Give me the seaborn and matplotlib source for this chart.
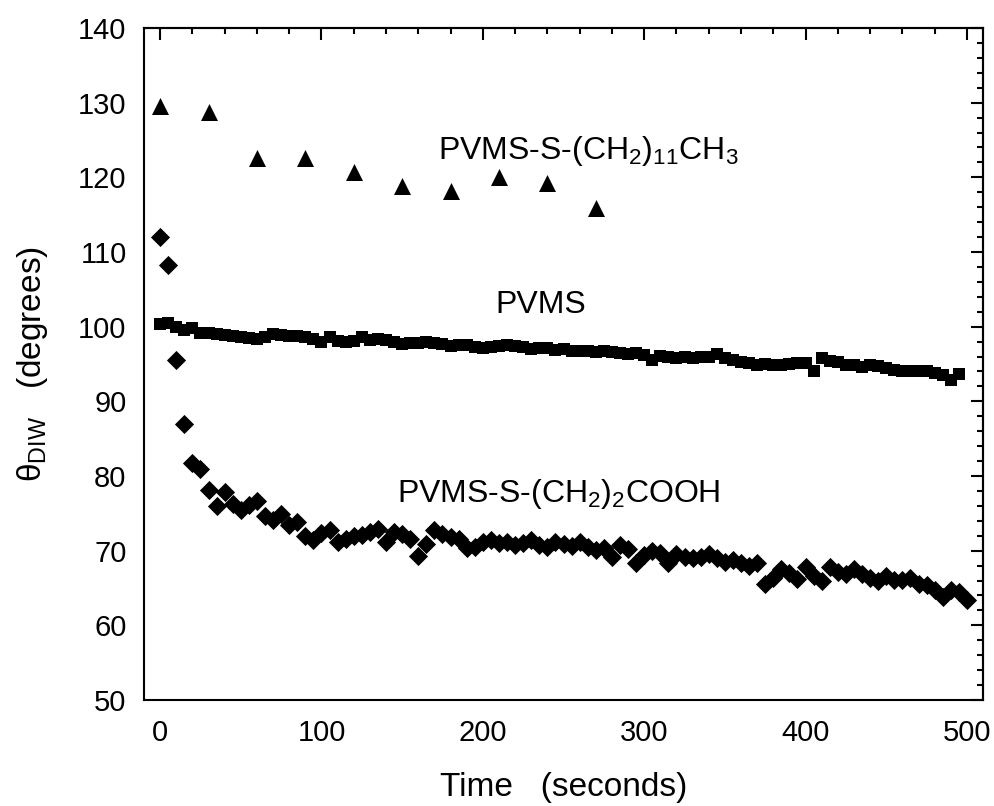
import numpy as np
import pandas as pd
import matplotlib
matplotlib.use("Agg")
import matplotlib.pyplot as plt
from matplotlib.ticker import MultipleLocator
import seaborn as sns

# ---------------- data ----------------
time_cooh = list(range(0, 505, 5))
theta_cooh = [112.0, 108.2, 95.6, 87.0, 81.8, 81.0, 78.1, 76.0, 77.8, 76.2,
              75.5, 76.1, 76.6, 74.6, 74.1, 74.9, 73.4, 73.9, 72.0, 71.4,
              72.3, 72.8, 71.2, 71.6, 72.0, 72.1, 72.5, 72.9, 71.2, 72.5,
              72.2, 71.6, 69.3, 70.9, 72.8, 72.2, 71.8, 71.6, 70.3, 70.5,
              71.1, 71.4, 71.0, 71.2, 70.8, 71.0, 71.4, 70.8, 70.5, 71.1,
              70.9, 70.6, 71.2, 70.5, 70.1, 70.4, 69.2, 70.8, 70.2, 68.3,
              69.4, 69.9, 69.7, 68.4, 69.6, 69.2, 69.0, 69.2, 69.5, 69.0,
              68.5, 68.7, 68.3, 67.9, 68.3, 65.6, 66.3, 67.5, 67.0, 66.2,
              67.8, 66.6, 66.0, 67.8, 67.2, 66.9, 67.5, 66.9, 66.3, 65.9,
              66.6, 66.1, 66.1, 66.3, 65.6, 65.4, 64.7, 63.8, 64.7, 64.5,
              63.4]

time_pvms = list(range(0, 500, 5))
theta_pvms = [100.3, 100.45, 100.0, 99.5, 99.8, 99.1, 99.1, 99.0, 98.9, 98.8,
              98.6, 98.5, 98.4, 98.6, 99.0, 98.9, 98.75, 98.7, 98.6, 98.3,
              98.0, 98.6, 98.1, 98.0, 98.1, 98.6, 98.2, 98.4, 98.2, 98.0,
              97.7, 97.8, 97.85, 98.0, 97.8, 97.7, 97.4, 97.6, 97.5, 97.3,
              97.2, 97.3, 97.4, 97.5, 97.4, 97.3, 97.0, 97.1, 97.2, 96.9,
              97.0, 96.8, 96.7, 96.8, 96.6, 96.7, 96.6, 96.5, 96.4, 96.5,
              96.2, 95.5, 96.1, 96.0, 95.8, 96.0, 95.8, 95.9, 96.0, 96.4,
              95.8, 95.5, 95.2, 95.1, 94.9, 95.0, 94.9, 94.9, 95.0, 95.1,
              95.1, 94.0, 95.8, 95.4, 95.2, 94.9, 94.8, 94.6, 94.9, 94.7,
              94.4, 94.2, 94.1, 94.1, 94.1, 94.0, 93.8, 93.5, 92.9, 93.7]

time_c12 = [0, 30, 60, 90, 120, 150, 180, 210, 240, 270]
theta_c12 = [129.5, 128.8, 122.6, 122.6, 120.7, 118.8, 118.2, 120.0, 119.2, 115.9]

labels = {
    "c12": "PVMS-S-(CH$_2$)$_{11}$CH$_3$",
    "pvms": "PVMS",
    "cooh": "PVMS-S-(CH$_2$)$_2$COOH",
}
x_title = "Time   (seconds)"
y_title = "θ$_{\\mathrm{DIW}}$   (degrees)"

df_cooh = pd.DataFrame({"t": time_cooh, "theta": theta_cooh})
df_pvms = pd.DataFrame({"t": time_pvms, "theta": theta_pvms})
df_c12 = pd.DataFrame({"t": time_c12, "theta": theta_c12})

# ---------------- style ----------------
sns.set_style("white")
plt.rcParams["font.family"] = ["Liberation Sans", "DejaVu Sans"]
plt.rcParams["text.color"] = "black"
plt.rcParams["axes.labelcolor"] = "black"
plt.rcParams["xtick.color"] = "black"
plt.rcParams["ytick.color"] = "black"
plt.rcParams["mathtext.fontset"] = "custom"
plt.rcParams["mathtext.rm"] = "Liberation Sans"
plt.rcParams["mathtext.it"] = "Liberation Sans:italic"
plt.rcParams["mathtext.bf"] = "Liberation Sans:bold"

fig = plt.figure(figsize=(9.95, 8.06), dpi=100)
ax = fig.add_axes([0.1447, 0.1315, 0.8433, 0.8338])

sns.scatterplot(data=df_pvms, x="t", y="theta", marker="s", s=80,
                color="black", linewidth=0, ax=ax, zorder=3)
sns.scatterplot(data=df_cooh, x="t", y="theta", marker="D", s=95,
                color="black", linewidth=0, ax=ax, zorder=3)
sns.scatterplot(data=df_c12, x="t", y="theta", marker="^", s=150,
                color="black", linewidth=0, ax=ax, zorder=3)

ax.set_xlim(-10, 510)
ax.set_ylim(50, 140)

ax.xaxis.set_major_locator(MultipleLocator(100))
ax.xaxis.set_minor_locator(MultipleLocator(20))
ax.yaxis.set_major_locator(MultipleLocator(10))
ax.yaxis.set_minor_locator(MultipleLocator(2))

for sp in ax.spines.values():
    sp.set_linewidth(1.5)
    sp.set_color("black")
    sp.set_visible(True)

ax.tick_params(which="both", direction="out", width=1.5, color="black",
               top=False, right=False, labelsize=21, labelcolor="black")
ax.tick_params(which="major", length=8.5)
ax.tick_params(which="minor", length=4.3)
ax.tick_params(axis="x", which="major", pad=5)
ax.tick_params(axis="y", which="major", pad=4)

secx = ax.secondary_xaxis("top")
secx.xaxis.set_major_locator(MultipleLocator(100))
secx.xaxis.set_minor_locator(MultipleLocator(20))
secx.tick_params(which="both", direction="in", width=1.5, labeltop=False)
secx.tick_params(which="major", length=8.5)
secx.tick_params(which="minor", length=4.3)
secx.spines["top"].set_linewidth(1.5)

secy = ax.secondary_yaxis("right")
secy.yaxis.set_major_locator(MultipleLocator(10))
secy.yaxis.set_minor_locator(MultipleLocator(2))
secy.tick_params(which="both", direction="in", width=1.5, labelright=False)
secy.tick_params(which="major", length=8.5)
secy.tick_params(which="minor", length=4.3)
secy.spines["right"].set_linewidth(1.5)

ax.set_xlabel(x_title, fontsize=24, color="black", labelpad=18)
ax.set_ylabel(y_title, fontsize=24, color="black", labelpad=20)

ax.text(172, 122.5, labels["c12"], fontsize=23, ha="left", va="baseline",
        color="black")
ax.text(208, 101.8, labels["pvms"], fontsize=23, ha="left", va="baseline",
        color="black")
ax.text(146.5, 76.5, labels["cooh"], fontsize=23, ha="left", va="baseline",
        color="black")

fig.savefig("out.png", dpi=100)
